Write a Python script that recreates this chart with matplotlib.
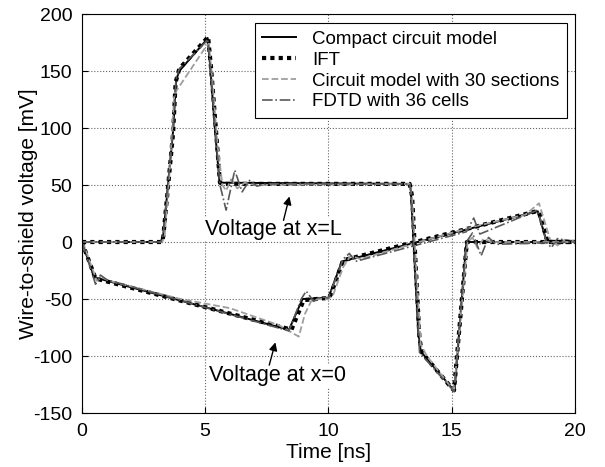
import numpy as np
import matplotlib.pyplot as plt

plt.rcParams['font.family'] = ['Liberation Sans', 'DejaVu Sans']
plt.rcParams['axes.unicode_minus'] = False

# ---- compact circuit model ----
cm_near_t = [0, 0.5, 8.4, 8.95, 10.0, 10.55, 18.5, 18.85, 20]
cm_near_v = [0, -31, -77, -50, -49, -17, 27, 1, 1]
cm_far_t = [0, 3.2, 3.3, 3.5, 3.7, 3.82, 3.95, 5.0, 5.1, 5.2, 5.4, 5.58, 5.7,
            13.3, 13.35, 13.65, 13.75, 15.05, 15.12, 15.6, 20]
cm_far_v = [0, 0, 6, 52, 98, 142, 150, 176, 179, 155, 98, 53, 52,
            51, 45, -80, -96, -129, -131, 0, 0]

# ---- IFT ----
ift_near_t = [0, 0.05, 0.55, 8.35, 8.5, 9.0, 10.0, 10.1, 10.6, 18.45, 18.55, 18.9, 20]
ift_near_v = [0, -3, -32, -76, -77, -51, -49, -46, -16, 27, 26, 0, 0]
ift_far_t = [0, 3.25, 3.3, 3.5, 3.7, 3.8, 3.95, 5.0, 5.12, 5.25, 5.45, 5.6, 5.75,
             13.3, 13.4, 13.7, 13.8, 15.0, 15.1, 15.62, 20]
ift_far_v = [0, 0, 5, 50, 96, 140, 152, 177, 180, 150, 95, 52, 51,
             51, 40, -85, -97, -128, -130, 0, 0]

# ---- circuit model with 30 sections ----
c30_near_t = [0, 0.1, 0.6, 0.8, 1.1, 4.0, 6.0, 8.0, 8.8, 9.05, 9.3, 9.6, 10.0,
              10.2, 10.6, 10.9, 11.3, 14.0, 16.0, 18.0, 18.55, 18.75, 19.0,
              19.3, 19.6, 20]
c30_near_v = [0, -4, -34, -31, -34, -50, -58, -73, -83, -63, -52, -50, -50,
              -46, -22, -12, -15, 2, 14, 24, 34, 20, 2, -3, 2, 1]
c30_far_t = [0, 3.25, 3.35, 3.55, 3.75, 5.05, 5.15, 5.3, 5.5, 5.7, 5.85, 6.05,
             6.3, 6.6, 7.0, 13.3, 13.4, 13.75, 14.0, 15.0, 15.1, 15.65, 15.85,
             16.05, 16.3, 16.6, 20]
c30_far_v = [0, 0, 4, 60, 130, 172, 174, 140, 85, 50, 45, 55, 47, 52, 50,
             51, 38, -90, -100, -128, -129, 0, 4, -5, 3, 0, 0]

# ---- FDTD with 36 cells ----
fd_near_t = [0, 0.05, 0.55, 0.75, 1.0, 8.4, 8.9, 9.1, 9.4, 9.7, 10.0, 10.6,
             10.85, 11.1, 15.6, 15.9, 16.15, 18.5, 18.85, 19.05, 19.3, 20]
fd_near_v = [0, -3, -37, -29, -33, -78, -50, -43, -52, -48, -49, -15,
             -10, -17, 9, 21, 7, 28, 0, -5, 3, 0]
fd_far_t = [0, 3.2, 3.3, 3.5, 3.7, 3.82, 3.95, 5.0, 5.1, 5.2, 5.4, 5.6, 5.85,
            6.2, 6.5, 6.8, 7.1, 7.5, 13.3, 13.35, 13.7, 15.1, 15.6, 15.85,
            16.2, 16.5, 16.8, 20]
fd_far_v = [0, 0, 7, 54, 99, 143, 152, 175, 178, 156, 100, 50, 28,
            63, 44, 54, 49, 51, 51, 44, -97, -131, 0, 8,
            -12, 4, -2, 0]

fig = plt.figure(figsize=(6.05, 4.67), dpi=100)
ax = fig.add_axes([0.1355, 0.1156, 0.8145, 0.8544])

ax.plot(cm_near_t, cm_near_v, '-', color='k', lw=1.4, label='Compact circuit model')
ax.plot(ift_near_t, ift_near_v, color='k', lw=3, ls=(0, (1, 1)),
        dash_capstyle='butt', label='IFT')
ax.plot(c30_near_t, c30_near_v, '--', color='0.62', lw=1.3,
        label='Circuit model with 30 sections')
ax.plot(fd_near_t, fd_near_v, '-.', color='0.35', lw=1.2, label='FDTD with 36 cells')

ax.plot(cm_far_t, cm_far_v, '-', color='k', lw=1.4)
ax.plot(ift_far_t, ift_far_v, color='k', lw=3, ls=(0, (1, 1)), dash_capstyle='butt')
ax.plot(c30_far_t, c30_far_v, '--', color='0.62', lw=1.3)
ax.plot(fd_far_t, fd_far_v, '-.', color='0.35', lw=1.2)

ax.set_xlim(0, 20)
ax.set_ylim(-150, 200)
ax.set_xticks([0, 5, 10, 15, 20])
ax.set_yticks([-150, -100, -50, 0, 50, 100, 150, 200])
ax.grid(True, ls=':', color='0.4', lw=0.8)
ax.tick_params(direction='in', length=4, labelsize=14, pad=7)
for s in ax.spines.values():
    s.set_linewidth(0.8)

ax.set_xlabel('Time [ns]', fontsize=15, labelpad=2)
ax.set_ylabel('Wire-to-shield voltage [mV]', fontsize=15)
ax.yaxis.set_label_coords(-0.089, 0.5)

ax.text(5.0, 11, 'Voltage at x=L', fontsize=15.5, ha='left', va='center',
        bbox=dict(facecolor='white', edgecolor='none', pad=1), zorder=5)
ax.text(5.14, -117, 'Voltage at x=0', fontsize=15.5, ha='left', va='center',
        bbox=dict(facecolor='white', edgecolor='none', pad=1), zorder=5)
ax.annotate('', xy=(8.42, 40), xytext=(8.18, 19),
            arrowprops=dict(arrowstyle='-|>', color='k', lw=1, mutation_scale=12,
                            shrinkA=0, shrinkB=0), zorder=6)
ax.annotate('', xy=(7.85, -88), xytext=(7.6, -108),
            arrowprops=dict(arrowstyle='-|>', color='k', lw=1, mutation_scale=12,
                            shrinkA=0, shrinkB=0), zorder=6)

leg = ax.legend(loc='upper right', bbox_to_anchor=(0.984, 0.977), borderaxespad=0,
                fontsize=13.5, fancybox=False, framealpha=1, edgecolor='k',
                handlelength=1.8, handletextpad=0.85, labelspacing=0.2,
                borderpad=0.4)
leg.get_frame().set_linewidth(0.8)
leg.set_zorder(10)

fig.savefig('out.png', dpi=100)
